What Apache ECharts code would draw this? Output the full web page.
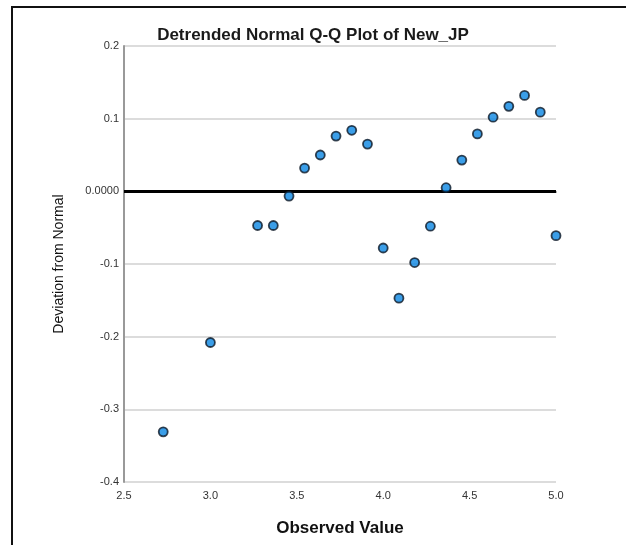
<!DOCTYPE html>
<html>
<head>
<meta charset="utf-8">
<script src="https://cdn.jsdelivr.net/npm/echarts@6/dist/echarts.min.js"></script>
<style>
  html, body { margin: 0; padding: 0; background: #fff; }
  #frame {
    position: absolute; left: 11px; top: 6px; width: 640px; height: 560px;
    border-left: 2px solid #111; border-top: 2px solid #111;
  }
  #chart { position: absolute; left: 0; top: 0; width: 626px; height: 545px; }
</style>
</head>
<body>
<div id="frame"></div>
<div id="chart"></div>
<script>
const observed = [2.727, 3.000, 3.273, 3.364, 3.455, 3.545, 3.636, 3.727, 3.818, 3.909, 4.000,
  4.091, 4.182, 4.273, 4.364, 4.455, 4.545, 4.636, 4.727, 4.818, 4.909, 5.000]
const deviation = [-0.331, -0.208, -0.047, -0.047, -0.0065, 0.032, 0.050, 0.076, 0.084, 0.065, -0.078,
  -0.147, -0.098, -0.048, 0.005, 0.043, 0.079, 0.102, 0.117, 0.132, 0.109, -0.061]
const xTicks = [2.5, 3.0, 3.5, 4.0, 4.5, 5.0]
const yTicks = [-0.4, -0.3, -0.2, -0.1, 0, 0.1, 0.2]

const chart = echarts.init(document.getElementById('chart'))
const option = {
  animation: false,
  textStyle: { fontFamily: 'Liberation Sans, Arial, sans-serif' },
  title: {
    text: 'Detrended Normal Q-Q Plot of New_JP',
    left: 308,
    top: 22,
    textAlign: 'center',
    textStyle: { color: '#1a1a1a', fontSize: 17, fontWeight: 'bold' },
  },
  grid: { left: 124, top: 46, right: 70, bottom: 63 },
  xAxis: {
    type: 'value',
    min: xTicks[0],
    max: xTicks[xTicks.length - 1],
    interval: 0.5,
    name: 'Observed Value',
    nameLocation: 'middle',
    nameGap: 38,
    nameTextStyle: { color: '#111', fontSize: 17, fontWeight: 'bold' },
    axisLine: { lineStyle: { color: '#999', width: 2 } },
    axisTick: { show: false },
    splitLine: { show: false },
    axisLabel: {
      color: '#333', fontSize: 11, margin: 8,
      formatter: (v) => v.toFixed(1),
    },
  },
  yAxis: {
    type: 'value',
    min: yTicks[0],
    max: yTicks[yTicks.length - 1],
    interval: 0.1,
    name: 'Deviation from Normal',
    nameLocation: 'middle',
    nameGap: 58,
    nameTextStyle: { color: '#111', fontSize: 14 },
    axisLine: { show: true, lineStyle: { color: '#999', width: 2 } },
    axisTick: { show: false },
    splitLine: { lineStyle: { color: '#dcdcdc', width: 2 } },
    axisLabel: {
      color: '#333', fontSize: 11, margin: 5,
      padding: [5, 0, 0, 0],
      formatter: (v) => (Math.abs(v) < 1e-9 ? '0.0000' : v.toFixed(1)),
    },
  },
  series: [
    {
      type: 'scatter',
      data: observed.map((x, i) => [x, deviation[i]]),
      symbol: 'circle',
      symbolSize: 9,
      itemStyle: { color: '#0a86e2', borderColor: '#0c1826', borderWidth: 1.8 },
      markLine: {
        silent: true,
        symbol: 'none',
        label: { show: false },
        lineStyle: { color: '#000', width: 3, type: 'solid' },
        data: [{ yAxis: 0 }],
        z: 1,
      },
      z: 3,
    },
  ],
}
chart.setOption(option)
</script>
</body>
</html>
